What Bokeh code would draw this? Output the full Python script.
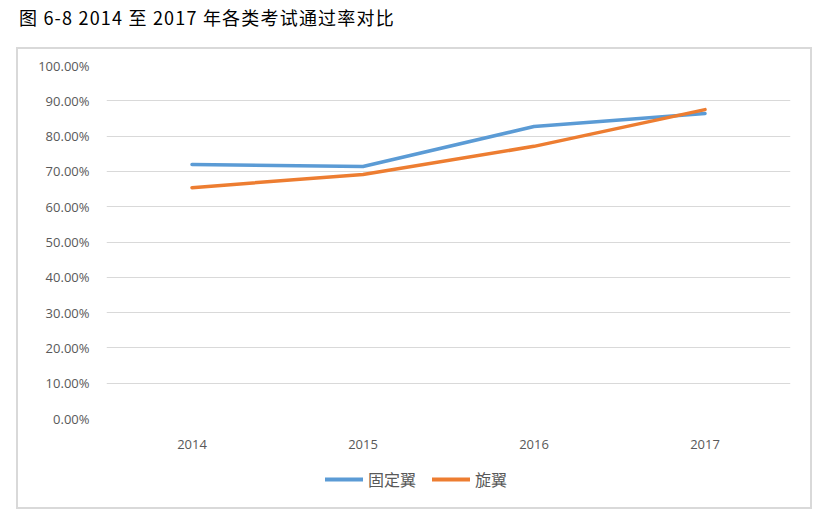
from bokeh.plotting import figure
from bokeh.models import (NumeralTickFormatter, FixedTicker, Range1d, Legend, LegendItem, Div, Spacer)
from bokeh.layouts import column, row
from bokeh.embed import file_html
from bokeh.resources import INLINE

years = ["2014", "2015", "2016", "2017"]
fixed_wing = [0.7195, 0.7140, 0.8270, 0.8640]
rotor = [0.6540, 0.6915, 0.7710, 0.8750]
series_names = ["固定翼", "旋翼"]
colors = ["#5B9BD5", "#ED7D31"]
title_text = "图 6-8 2014 至 2017 年各类考试通过率对比"

xs = list(range(len(years)))

title = Div(text=title_text, width=800, height=37,
            styles={"font-family": "'Noto Sans CJK SC'", "font-size": "18px",
                    "letter-spacing": "1.2px", "line-height": "24px", "color": "#000000",
                    "padding-left": "14px"})

W = 792
p = figure(width=W, height=410, output_backend="svg", toolbar_location=None,
           x_range=Range1d(-0.5, len(years) - 0.5), y_range=Range1d(0, 1.0),
           min_border_left=88, min_border_right=20, min_border_top=16, min_border_bottom=41)
p.outline_line_color = None
p.background_fill_color = "white"
p.border_fill_color = "white"

r1 = p.line(xs, fixed_wing, line_color=colors[0], line_width=3.5, line_cap="round")
r2 = p.line(xs, rotor, line_color=colors[1], line_width=3.5, line_cap="round")

p.xaxis.ticker = FixedTicker(ticks=xs)
p.xaxis.major_label_overrides = {i: y for i, y in enumerate(years)}
p.yaxis.ticker = FixedTicker(ticks=[i / 10 for i in range(11)])
p.yaxis.formatter = NumeralTickFormatter(format="0.00%")
for ax in (p.xaxis, p.yaxis):
    ax.axis_line_color = None
    ax.major_tick_line_color = None
    ax.minor_tick_line_color = None
    ax.major_label_text_color = "#595959"
    ax.major_label_text_font = "Open Sans"
    ax.major_label_text_font_size = "13px"
p.xaxis.major_label_standoff = 15
p.yaxis.major_label_standoff = 11
p.xgrid.grid_line_color = None
p.ygrid.grid_line_color = "#D9D9D9"
p.ygrid.grid_line_width = 1

# legend holder: same series drawn outside its visible range, only the legend shows
lf = figure(width=W, height=48, output_backend="svg", toolbar_location=None,
            x_axis_type=None, y_axis_type=None, x_range=Range1d(-0.5, len(years) - 0.5),
            y_range=Range1d(2, 3), min_border=0)
lf.outline_line_color = None
lf.border_fill_color = "white"
l1 = lf.line(xs, fixed_wing, line_color=colors[0], line_width=4, line_cap="round")
l2 = lf.line(xs, rotor, line_color=colors[1], line_width=4, line_cap="round")
legend = Legend(items=[LegendItem(label=series_names[0], renderers=[l1]),
                       LegendItem(label=series_names[1], renderers=[l2])],
                orientation="horizontal", location=(219, 16),
                label_text_font="Noto Sans CJK SC", label_text_font_size="16px",
                label_text_color="#595959", glyph_width=38, glyph_height=20,
                spacing=16, label_standoff=5, border_line_color=None,
                background_fill_alpha=0, padding=0, margin=0)
lf.add_layout(legend)

box = column(p, lf, spacing=0,
             styles={"border": "2px solid #D9D9D9", "background-color": "white"})
layout = column(title, row(Spacer(width=16, height=10), box, spacing=0), spacing=0)
open("out.html", "w").write(file_html(layout, INLINE))
